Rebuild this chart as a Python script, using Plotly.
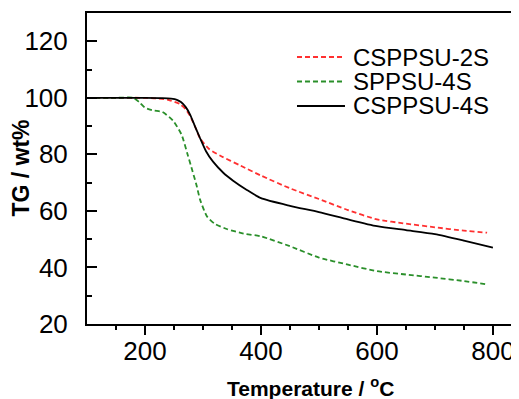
import plotly.graph_objects as go

# CSPPSU-2S (red dashed)
t_2s = [100, 150, 200, 220, 240, 260, 270, 278, 287, 295, 310, 330, 365, 400, 450, 500, 550, 600, 650, 700, 750, 790]
w_2s = [100, 100, 100, 99.8, 99.3, 97.8, 96, 93.5, 89.5, 85.7, 82, 79.5, 76, 72.5, 68, 64.2, 60.3, 57, 55.5, 54.2, 53, 52.3]

# SPPSU-4S (green dashed)
t_s4 = [100, 150, 180, 190, 200, 215, 230, 248, 263, 274, 282, 289, 295, 307, 320, 341, 370, 400, 450, 500, 550, 600, 650, 700, 750, 790]
w_s4 = [100, 100, 100, 98.5, 96.5, 95.5, 95, 92, 87, 79.6, 74, 69, 64, 58, 55.5, 53.6, 52, 51, 47.5, 43.5, 41, 38.7, 37.5, 36.4, 35.2, 34]

# CSPPSU-4S (black solid)
t_4s = [100, 150, 200, 230, 245, 255, 262, 270, 278, 286, 295, 305, 317, 335, 352, 375, 400, 450, 500, 550, 600, 650, 700, 750, 800]
w_4s = [100, 100, 100, 99.9, 99.7, 99.3, 98.5, 96.8, 94, 90, 85.7, 81.2, 77.5, 73.5, 70.7, 67.5, 64.5, 61.8, 59.6, 57, 54.6, 53.2, 51.8, 49.5, 47]

series_names = ["CSPPSU-2S", "SPPSU-4S", "CSPPSU-4S"]
series_colors = ["#ff3030", "#2a8f2a", "black"]
series_dash = ["5px,3px", "5px,3px", "solid"]

x_ticks = [200, 400, 600, 800]
y_ticks = [20, 40, 60, 80, 100, 120]

FONT = "Liberation Sans, Arial, sans-serif"

fig = go.Figure()
for t, w, name, col, dash in zip([t_2s, t_s4, t_4s], [w_2s, w_s4, w_4s],
                                 series_names, series_colors, series_dash):
    fig.add_trace(go.Scatter(x=t, y=w, mode="lines", name=name, showlegend=False,
                             line=dict(color=col, width=1.8, dash=dash,
                                       shape="spline", smoothing=0.6)))

# legend drawn as line samples + text (reference legend has tight row spacing)
leg_rows = [0.8585, 0.7797, 0.7010]
shapes = []
annotations = []
for name, col, dash, yy in zip(series_names, series_colors, series_dash, leg_rows):
    shapes.append(dict(type="line", xref="paper", yref="paper", x0=0.4861, x1=0.5972,
                       y0=yy, y1=yy, line=dict(color=col, width=1.8, dash=dash)))
    annotations.append(dict(text=name, xref="paper", yref="paper", x=0.6100, y=yy,
                            xanchor="left", yanchor="middle", showarrow=False,
                            font=dict(size=24, family=FONT, color="black")))

annotations += [
    dict(text="<b>Temperature / <sup>o</sup>C</b>", xref="paper", yref="paper",
         x=0.5185, y=-0.2026, xanchor="center", yanchor="middle", showarrow=False,
         font=dict(size=21, family=FONT)),
    dict(text="<b>TG / wt%</b>", xref="paper", yref="paper",
         x=-0.155, y=0.50, xanchor="center", yanchor="middle", showarrow=False,
         textangle=-90, font=dict(size=23, family=FONT)),
]

fig.update_layout(
    width=511, height=391,
    margin=dict(l=79, r=0, t=5, b=75),
    paper_bgcolor="white", plot_bgcolor="white",
    font=dict(family=FONT, color="black", size=26),
    showlegend=False,
    shapes=shapes,
    annotations=annotations,
    xaxis=dict(range=[100, 845], showgrid=False, zeroline=False, automargin=False,
               showline=True, linecolor="black", linewidth=2, mirror=True,
               ticks="outside", ticklen=9, tickwidth=1.5, tickcolor="black",
               tickvals=x_ticks, ticklabelstandoff=-6,
               tickfont=dict(size=26, family=FONT, color="black"),
               minor=dict(tickvals=[150, 250, 300, 350, 450, 500, 550, 650, 700, 750],
                          ticks="outside", ticklen=4, tickwidth=1.5, tickcolor="black")),
    yaxis=dict(range=[20, 130], showgrid=False, zeroline=False, automargin=False,
               showline=True, linecolor="black", linewidth=2, mirror=False,
               ticks="inside", ticklen=10, tickwidth=1.5, tickcolor="black",
               tickvals=y_ticks, ticklabelstandoff=12,
               tickfont=dict(size=26, family=FONT, color="black"),
               minor=dict(tickvals=[30, 50, 70, 90, 110],
                          ticks="inside", ticklen=5, tickwidth=1.5, tickcolor="black")),
)

fig.write_html("out.html")
